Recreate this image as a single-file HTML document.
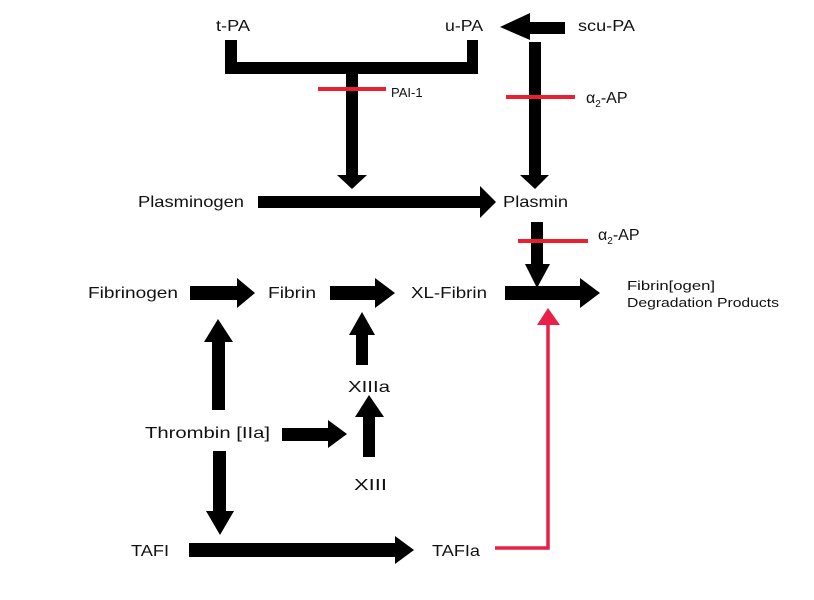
<!DOCTYPE html>
<html><head><meta charset="utf-8"><style>
html,body{margin:0;padding:0;background:#fff;}
svg{display:block;}
text{font-family:"Liberation Sans",sans-serif;font-size:16px;fill:#111;}
</style></head><body>
<svg width="814" height="600" viewBox="0 0 814 600" xmlns="http://www.w3.org/2000/svg">
<rect width="814" height="600" fill="#fff"/>
<text x="216" y="31" textLength="34" lengthAdjust="spacingAndGlyphs">t-PA</text>
<text x="445" y="31" textLength="38" lengthAdjust="spacingAndGlyphs">u-PA</text>
<text x="578" y="31" textLength="57" lengthAdjust="spacingAndGlyphs">scu-PA</text>
<path d="M225 40 H237 V62 H467 V40 H478 V74 H225 Z" fill="#000"/>
<rect x="346" y="74" width="12" height="102" fill="#000"/>
<polygon points="337,175 367,175 352,189" fill="#000"/>
<rect x="318" y="87" width="68" height="4" fill="#e8202f"/>
<text x="391" y="97" style="font-size:13px">PAI-1</text>
<rect x="528" y="22" width="37" height="12" fill="#000"/>
<polygon points="500,27 530,13 530,40" fill="#000"/>
<rect x="529" y="42" width="12" height="134" fill="#000"/>
<polygon points="520,175 549,175 535,189" fill="#000"/>
<rect x="506" y="95" width="69" height="4" fill="#e8202f"/>
<text x="586" y="103">α<tspan dy="4" style="font-size:10px">2</tspan><tspan dy="-4">-AP</tspan></text>
<text x="138" y="207" textLength="106" lengthAdjust="spacingAndGlyphs">Plasminogen</text>
<rect x="258" y="196" width="224" height="12" fill="#000"/>
<polygon points="480,186 496,202 480,218" fill="#000"/>
<text x="503" y="207" textLength="65" lengthAdjust="spacingAndGlyphs">Plasmin</text>
<rect x="531" y="222" width="12" height="43" fill="#000"/>
<polygon points="525,264 550,264 537,288" fill="#000"/>
<rect x="518" y="239" width="70" height="4" fill="#e8202f"/>
<text x="598" y="240">α<tspan dy="4" style="font-size:10px">2</tspan><tspan dy="-4">-AP</tspan></text>
<text x="88" y="298" textLength="90" lengthAdjust="spacingAndGlyphs">Fibrinogen</text>
<rect x="190" y="286" width="50" height="14" fill="#000"/>
<polygon points="237,278 255,293 237,308" fill="#000"/>
<text x="268" y="298" textLength="48" lengthAdjust="spacingAndGlyphs">Fibrin</text>
<rect x="330" y="286" width="48" height="14" fill="#000"/>
<polygon points="375,278 395,293 375,308" fill="#000"/>
<text x="411" y="298" textLength="76" lengthAdjust="spacingAndGlyphs">XL-Fibrin</text>
<rect x="505" y="286" width="78" height="14" fill="#000"/>
<polygon points="580,278 600,293 580,308" fill="#000"/>
<text x="627" y="290" style="font-size:13px" textLength="88" lengthAdjust="spacingAndGlyphs">Fibrin[ogen]</text>
<text x="627" y="307" style="font-size:13px" textLength="152" lengthAdjust="spacingAndGlyphs">Degradation Products</text>
<rect x="212" y="340" width="13" height="70" fill="#000"/>
<polygon points="204,342 233,342 218,319" fill="#000"/>
<rect x="356" y="333" width="12" height="32" fill="#000"/>
<polygon points="349,335 375,335 362,312" fill="#000"/>
<text x="348" y="392" textLength="42" lengthAdjust="spacingAndGlyphs">XIIIa</text>
<text x="145" y="438" textLength="125" lengthAdjust="spacingAndGlyphs">Thrombin [IIa]</text>
<rect x="282" y="428" width="48" height="13" fill="#000"/>
<polygon points="328,420 347,434 328,448" fill="#000"/>
<rect x="363" y="415" width="12" height="42" fill="#000"/>
<polygon points="355,417 384,417 369,395" fill="#000"/>
<text x="354" y="490" textLength="33" lengthAdjust="spacingAndGlyphs">XIII</text>
<rect x="213" y="451" width="13" height="62" fill="#000"/>
<polygon points="206,511 234,511 220,535" fill="#000"/>
<text x="131" y="556" textLength="38" lengthAdjust="spacingAndGlyphs">TAFI</text>
<rect x="189" y="543" width="208" height="14" fill="#000"/>
<polygon points="395,536 414,550 395,564" fill="#000"/>
<text x="432" y="556" textLength="48" lengthAdjust="spacingAndGlyphs">TAFIa</text>
<polyline points="495,548 548,548 548,322" fill="none" stroke="#e8204a" stroke-width="3.5"/>
<polygon points="537,325 560,325 548,308" fill="#e8204a"/>
</svg>
</body></html>
